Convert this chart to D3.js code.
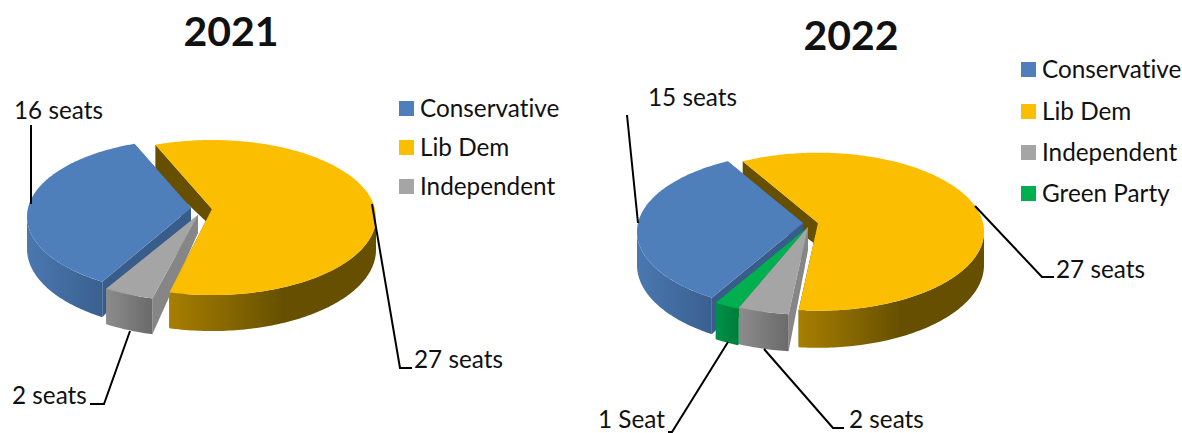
<!DOCTYPE html>
<html>
<head>
<meta charset="utf-8">
<script src="https://cdn.jsdelivr.net/npm/d3@7/dist/d3.min.js"></script>
<style>
  html, body { margin: 0; padding: 0; background: #fff; overflow: hidden; }
  text { font-family: Lato, "Open Sans", sans-serif; fill: #111; font-variant-ligatures: none; }
</style>
</head>
<body>
<div id="chart"></div>
<script>
// Seats
const categories = ['Conservative', 'Lib Dem', 'Independent', 'Green Party'];
const seats2021 = [16, 27, 2];
const seats2022 = [15, 27, 2, 1];
const labels2021 = ['16 seats', '27 seats', '2 seats'];
const labels2022 = ['15 seats', '27 seats', '2 seats', '1 Seat'];

const WIDTH = 1182;
const HEIGHT = 433;
const RAD = Math.PI / 180;
const TURN = 2 * Math.PI;

const TOP_COLORS = ['#4f7fbb', '#fcbe00', '#a5a5a5', '#00b050'];
const CUT_COLORS = ['#385d8a', '#665000', '#868686', '#008a3e'];
// Wall gradients as [offset, colour]
const WALL_STOPS = [
  [[0, '#4a78b0'], [1, '#3a6090']],
  [[0, '#a87e00'], [0.55, '#665000'], [1, '#665000']],
  [[0, '#8c8c8c'], [1, '#6a6a6a']],
  [[0, '#00914a'], [1, '#007d3a']]
];

const color = d3.scaleOrdinal().domain(categories).range(TOP_COLORS);

// Layout of each pie: slice centre on screen, radius, tilt and depth of the 3D view
const PIE_2021 = {
  id: 'p21', title: '2021', titleX: 231, titleY: 46,
  values: seats2021, labels: labels2021,
  startAngle: 209.5, radius: 163, tilt: 0.47, eye: 1480, height: 32, cutDrop: 18,
  apex: [[191, 208], [212, 209], [195, 215]],
  tip: [null, null, [198, 215]],
  legend: { x: 399, textX: 420, rows: [108, 147, 186] },
  leaders: [
    { points: [[31, 125], [31, 204]], x: 14, y: 119 },
    { points: [[372, 204], [400, 368], [412, 368]], x: 414, y: 368 },
    { points: [[130, 331], [104, 404], [90, 404]], x: 12, y: 404 }
  ]
};
const PIE_2022 = {
  id: 'p22', title: '2022', titleX: 851, titleY: 50,
  values: seats2022, labels: labels2022,
  startAngle: 210, radius: 165, tilt: 0.473, eye: 1500, height: 33, cutDrop: 23,
  apex: [[803, 223], [818, 223], [808, 227], [807, 228]],
  tip: [null, null, null, null],
  legend: { x: 1021, textX: 1042, rows: [69, 111, 152, 193] },
  leaders: [
    { points: [[627, 115], [638, 223]], x: 648, y: 106 },
    { points: [[975, 206], [1042, 277], [1054, 277]], x: 1056, y: 278 },
    { points: [[764, 349], [833, 428], [844, 428]], x: 849, y: 428 },
    { points: [[728, 342], [672, 432], [668, 432]], x: 598, y: 428 }
  ]
};

const svg = d3.select('#chart').append('svg')
  .attr('width', WIDTH)
  .attr('height', HEIGHT)
  .attr('viewBox', `0 0 ${WIDTH} ${HEIGHT}`);
const defs = svg.append('defs');
const line = d3.line();

function drawPie(cfg) {
  const g = svg.append('g');

  const pie = d3.pie().sort(null).value(d => d)
    .startAngle(cfg.startAngle * RAD)
    .endAngle(cfg.startAngle * RAD + TURN);
  const slices = pie(cfg.values).map((s, i) => ({
    ...s,
    index: i,
    apex: cfg.apex[i],
    tip: cfg.tip[i] ?? cfg.apex[i]
  }));

  // Perspective projection of a point of the pie onto the screen
  const project = (s, angle, drop) => {
    const X = cfg.radius * Math.sin(angle);
    const Y = -cfg.radius * Math.cos(angle);
    const k = cfg.eye / (cfg.eye - Y);
    return [s.apex[0] + X * k, s.apex[1] + Y * cfg.tilt * k + drop * k];
  };
  const rimAngles = (a0, a1) => {
    const n = Math.max(2, Math.ceil((a1 - a0) / RAD));
    return d3.range(n + 1).map(j => a0 + (a1 - a0) * j / n);
  };

  const topPath = s => line([
    s.tip,
    ...rimAngles(s.startAngle, s.endAngle).map(a => project(s, a, 0))
  ]) + 'Z';

  const cutPath = (s, angle) => line([
    s.tip,
    project(s, angle, 0),
    project(s, angle, cfg.height),
    [s.tip[0], s.tip[1] + cfg.cutDrop]
  ]) + 'Z';

  // Outer wall, from silhouette to silhouette of the rim
  const wallPath = s => {
    const shift = s.endAngle > TURN ? TURN : 0;
    const edge = Math.asin(cfg.radius / cfg.eye);
    const from = Math.max(s.startAngle - shift, Math.PI / 2 + edge);
    const to = Math.min(s.endAngle - shift, 1.5 * Math.PI - edge);
    if (to <= from) return null;
    const angles = rimAngles(from, to);
    return line([
      ...angles.map(a => project(s, a, 0)),
      ...angles.slice().reverse().map(a => project(s, a, cfg.height))
    ]) + 'Z';
  };

  const wallFill = s => {
    const id = `${cfg.id}-wall-${s.index}`;
    const grad = defs.append('linearGradient').attr('id', id);
    WALL_STOPS[s.index].forEach(([offset, c]) => {
      grad.append('stop').attr('offset', offset).attr('stop-color', c);
    });
    return `url(#${id})`;
  };

  const drawSides = s => {
    g.append('path').attr('d', cutPath(s, s.startAngle)).attr('fill', CUT_COLORS[s.index]);
    g.append('path').attr('d', cutPath(s, s.endAngle)).attr('fill', CUT_COLORS[s.index]);
    const wall = wallPath(s);
    if (wall) g.append('path').attr('d', wall).attr('fill', wallFill(s));
  };
  const drawTop = s => g.append('path').attr('d', topPath(s)).attr('fill', color(categories[s.index]));

  // Painter's order: Lib Dem sides at the back, its top last so it hides the wedge cuts
  const libDem = slices[1];
  const others = [slices[0], ...slices.slice(2).reverse()];
  drawSides(libDem);
  others.forEach(s => { drawSides(s); drawTop(s); });
  drawTop(libDem);

  // Title
  svg.append('text')
    .attr('x', cfg.titleX).attr('y', cfg.titleY)
    .attr('text-anchor', 'middle')
    .style('font-size', '41px').style('font-weight', 700)
    .text(cfg.title);

  // Legend
  cfg.legend.rows.forEach((y, i) => {
    svg.append('rect')
      .attr('x', cfg.legend.x).attr('y', y - 7)
      .attr('width', 15).attr('height', 15)
      .attr('fill', color(categories[i]));
    svg.append('text')
      .attr('x', cfg.legend.textX).attr('y', y + 9)
      .style('font-size', '24.3px')
      .text(categories[i]);
  });

  // Leader lines and seat labels
  cfg.leaders.forEach((l, i) => {
    svg.append('path')
      .attr('d', line(l.points))
      .attr('fill', 'none').attr('stroke', '#000').attr('stroke-width', 2);
    svg.append('text')
      .attr('x', l.x).attr('y', l.y)
      .style('font-size', '24.3px')
      .text(cfg.labels[i]);
  });
}

drawPie(PIE_2021);
drawPie(PIE_2022);
</script>
</body>
</html>
